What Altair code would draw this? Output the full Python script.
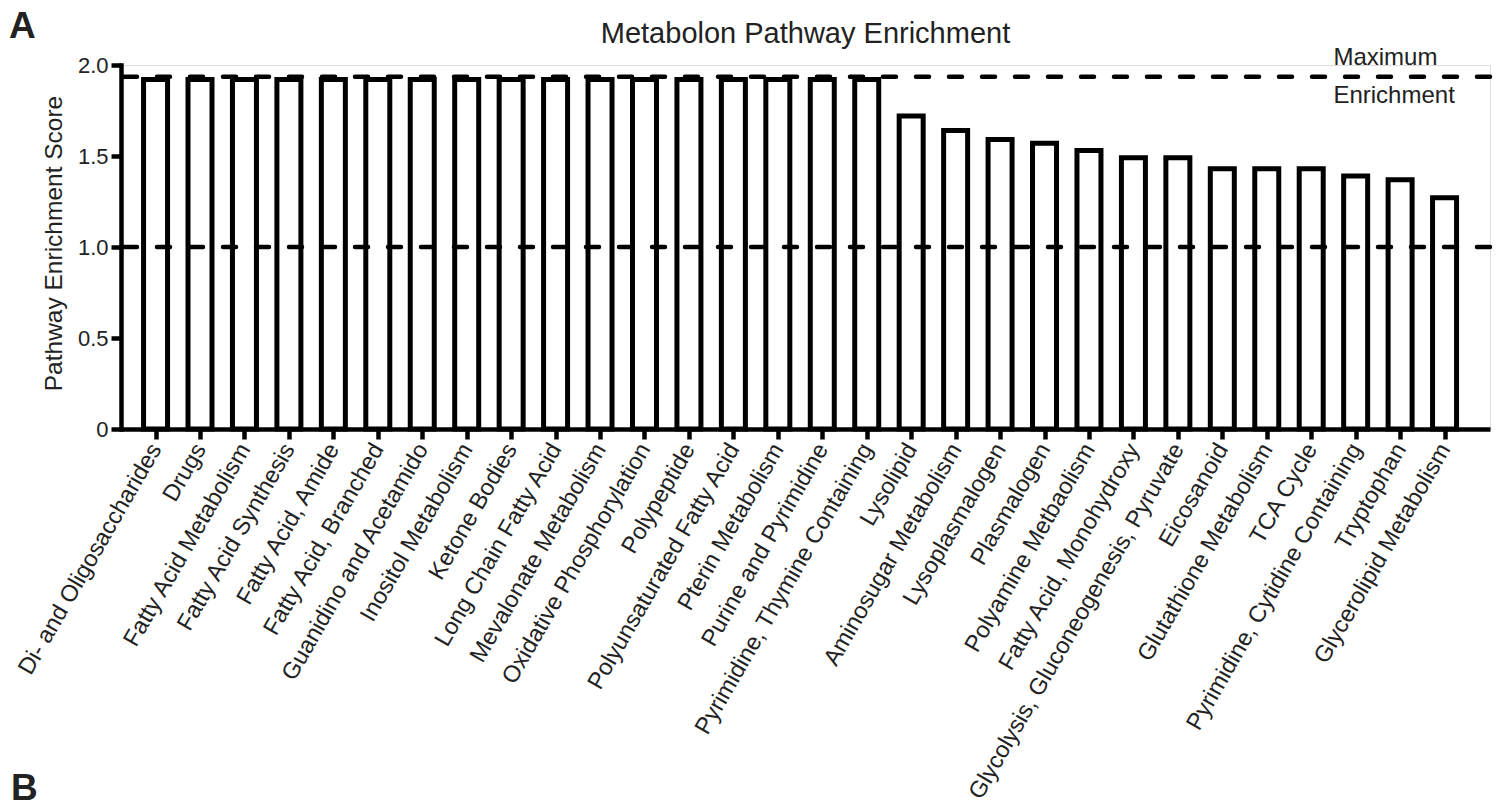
import json

import altair as alt
import pandas as pd

# Metabolon pathway enrichment scores, in plotting order
pathways = [
    "Di- and Oligosaccharides",
    "Drugs",
    "Fatty Acid Metabolism",
    "Fatty Acid Synthesis",
    "Fatty Acid, Amide",
    "Fatty Acid, Branched",
    "Guanidino and Acetamido",
    "Inositol Metabolism",
    "Ketone Bodies",
    "Long Chain Fatty Acid",
    "Mevalonate Metabolism",
    "Oxidative Phosphorylation",
    "Polypeptide",
    "Polyunsaturated Fatty Acid",
    "Pterin Metabolism",
    "Purine and Pyrimidine",
    "Pyrimidine, Thymine Containing",
    "Lysolipid",
    "Aminosugar Metabolism",
    "Lysoplasmalogen",
    "Plasmalogen",
    "Polyamine Metbaolism",
    "Fatty Acid, Monohydroxy",
    "Glycolysis, Gluconeogenesis, Pyruvate",
    "Eicosanoid",
    "Glutathione Metabolism",
    "TCA Cycle",
    "Pyrimidine, Cytidine Containing",
    "Tryptophan",
    "Glycerolipid Metabolism",
]
scores = [
    1.92, 1.92, 1.92, 1.92, 1.92, 1.92, 1.92, 1.92, 1.92, 1.92,
    1.92, 1.92, 1.92, 1.92, 1.92, 1.92, 1.92,
    1.72, 1.64, 1.59, 1.57, 1.53, 1.49, 1.49, 1.43, 1.43, 1.43,
    1.39, 1.37, 1.27,
]
reference_lines = [1.935, 1.0]          # maximum enrichment, no enrichment
max_label_lines = ["Maximum", "Enrichment"]
max_label_x = 26.5                      # position on the pathway index axis
y_ticks = [0, 0.5, 1.0, 1.5, 2.0]

FONT = "Liberation Sans, Arial, Helvetica, sans-serif"
INK = "#222222"
LINE_W = 4.5

bars_df = pd.DataFrame({"idx": list(range(len(pathways))), "pathway": pathways, "score": scores})
lines_df = pd.DataFrame({"value": reference_lines})

name_array = "[" + ",".join(json.dumps(p) for p in pathways) + "]"

x_scale = alt.Scale(domain=[-0.665, len(pathways) - 1 + 0.91], nice=False, zero=False)
y_scale = alt.Scale(domain=[0, 2.0], nice=False)

x_axis = alt.Axis(
    values=list(range(len(pathways))),
    labelExpr=f"{name_array}[datum.value]",
    labelAngle=-60,
    labelFont=FONT,
    labelFontSize=23.5,
    labelColor=INK,
    labelOverlap=False,
    labelFlush=False,
    labelLimit=0,
    labelPadding=6,
    tickSize=10,
    tickWidth=LINE_W,
    tickColor="black",
    domainColor="black",
    domainWidth=LINE_W,
    grid=False,
    title=None,
)
y_axis = alt.Axis(
    values=y_ticks,
    labelExpr="datum.value == 0 ? '0' : format(datum.value, '.1f')",
    labelFont=FONT,
    labelFontSize=22,
    labelColor=INK,
    labelPadding=3,
    labelFlush=False,
    tickSize=10,
    tickWidth=LINE_W,
    tickColor="black",
    domainColor="black",
    domainWidth=LINE_W,
    domainCap="square",
    grid=False,
    title="Pathway Enrichment Score",
    titleFont=FONT,
    titleFontSize=24.5,
    titleFontWeight="normal",
    titleColor=INK,
    titleX=-67,
    titleY=178,
    titleAlign="center",
    titleBaseline="middle",
)

bars = alt.Chart(bars_df).mark_bar(
    fill="white", stroke="black", strokeWidth=5, size=24, strokeJoin="miter"
).encode(
    x=alt.X("idx:Q", scale=x_scale, axis=x_axis),
    y=alt.Y("score:Q", scale=y_scale, axis=y_axis),
    tooltip=["pathway:N", "score:Q"],
)

rules = alt.Chart(lines_df).mark_rule(
    color="black", strokeWidth=LINE_W, strokeDash=[13, 20], strokeCap="round"
).encode(y=alt.Y("value:Q", scale=y_scale))

label_top = alt.Chart(pd.DataFrame({"t": [max_label_lines[0]], "x": [max_label_x], "y": [reference_lines[0]]})).mark_text(
    align="left", baseline="middle", dy=-19, font=FONT, fontSize=24, color=INK
).encode(x=alt.X("x:Q", scale=x_scale), y=alt.Y("y:Q", scale=y_scale), text="t:N")

label_bottom = alt.Chart(pd.DataFrame({"t": [max_label_lines[1]], "x": [max_label_x], "y": [reference_lines[0]]})).mark_text(
    align="left", baseline="middle", dy=19, font=FONT, fontSize=24, color=INK
).encode(x=alt.X("x:Q", scale=x_scale), y=alt.Y("y:Q", scale=y_scale), text="t:N")

panel_a = alt.Chart(pd.DataFrame({"p": ["A"]})).mark_text(
    align="left", baseline="alphabetic", font=FONT, fontSize=37, fontWeight="bold", color=INK
).encode(x=alt.value(-112), y=alt.value(-27), text="p:N")

panel_b = alt.Chart(pd.DataFrame({"p": ["B"]})).mark_text(
    align="left", baseline="alphabetic", font=FONT, fontSize=37, fontWeight="bold", color=INK
).encode(x=alt.value(-110), y=alt.value(735), text="p:N")

chart = alt.layer(bars, rules, label_top, label_bottom, panel_a, panel_b).properties(
    width=1369,
    height=364,
    title=alt.TitleParams(
        "Metabolon Pathway Enrichment",
        font=FONT,
        fontSize=29,
        fontWeight="normal",
        color=INK,
        anchor="middle",
        offset=0,
        dy=41,
    ),
    autosize=alt.AutoSizeParams(type="none"),
    padding={"left": 121, "top": 65, "right": 7, "bottom": 378},
).configure_view(stroke=None).configure(background="white")

chart.save("out.html", embed_options={"renderer": "svg", "actions": False})
